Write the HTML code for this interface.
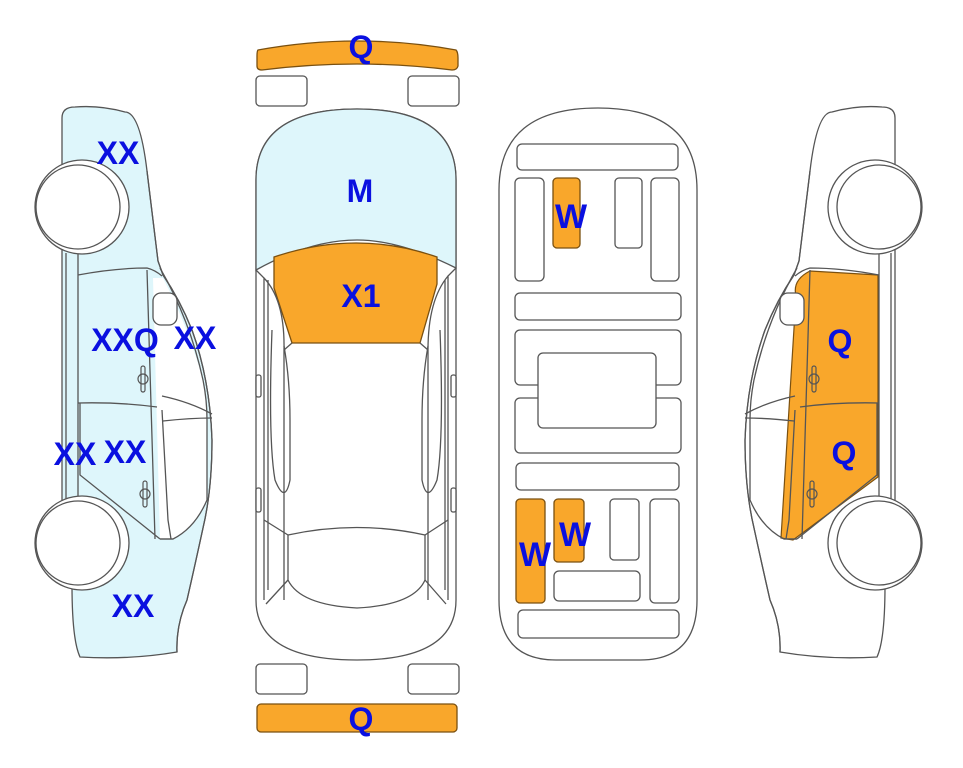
<!DOCTYPE html>
<html><head><meta charset="utf-8"><style>
html,body{margin:0;padding:0;background:#fff;}
svg{display:block}
text{font-family:"Liberation Sans",Arial,sans-serif;font-weight:bold;fill:#0a10e0;text-anchor:middle}
</style></head><body>
<svg width="963" height="768" viewBox="0 0 963 768" xmlns="http://www.w3.org/2000/svg">
<defs>
<path id="win" d="M163,278 Q185,320 200,370 Q207,395 207,414 L207,500 Q195,530 173,539 L160,539 L153,278 Z" fill="#fff" stroke="none"/>
<g id="sidelines">
  <path d="M147,171 L158,261 L163,275 Q180,300 192,330 Q210,380 212,440 Q212,490 203,528 Q195,565 187,600 Q176,625 177,652" fill="none" stroke="#555" stroke-width="1.3"/>
  <path d="M160,268 Q190,320 203,380 Q207,400 207,420 L207,500 Q195,528 173,539 L160,539" fill="none" stroke="#555" stroke-width="1.3"/>
  <path d="M78,253 L78,500 M66,253 L66,500 M78,275 Q115,268 147,268 Q155,270 162,276 M147,270 L155,539 M78,403 Q120,402 157,407 M80,403 L80,475 L160,539 M160,539 L173,539 M162,396 Q190,402 212,414 M163,421 Q190,418 212,418 M162,410 L168,520 L171,539" fill="none" stroke="#555" stroke-width="1.3"/>
  <rect x="153" y="293" width="24" height="32" rx="8" fill="#fff" stroke="#555" stroke-width="1.3"/>
  <g fill="none" stroke="#555" stroke-width="1.2">
    <rect x="141" y="366" width="4" height="26" rx="2"/><circle cx="143" cy="379" r="5"/>
    <rect x="143" y="481" width="4" height="26" rx="2"/><circle cx="145" cy="494" r="5"/>
  </g>
  <g fill="#fff" stroke="#555" stroke-width="1.3">
    <circle cx="82" cy="207" r="47"/>
    <circle cx="78" cy="207" r="42"/>
    <circle cx="82" cy="543" r="47"/>
    <circle cx="78" cy="543" r="42"/>
  </g>
</g>
</defs>

<!-- LEFT car -->
<g>
  <path d="M62,118 Q62,107 75,107 Q100,105 125,112 Q140,112 147,171 L158,261 L163,275 Q180,300 192,330 Q210,380 212,440 Q212,490 203,528 Q195,565 187,600 Q176,625 177,652 Q130,660 80,657 Q72,640 72,585 L62,580 L62,118 Z" fill="#def6fb" stroke="#555" stroke-width="1.3"/>
  <use href="#win"/>
  <use href="#sidelines"/>
</g>
<!-- RIGHT car (mirror) -->
<g transform="translate(957,0) scale(-1,1)">
  <path d="M62,118 Q62,107 75,107 Q100,105 125,112 Q140,112 147,171 L158,261 L163,275 Q180,300 192,330 Q210,380 212,440 Q212,490 203,528 Q195,565 187,600 Q176,625 177,652 Q130,660 80,657 Q72,640 72,585 L62,580 L62,118 Z" fill="#fff" stroke="#555" stroke-width="1.3"/>
  <path d="M79,275 L147,271 Q165,280 161,296 L176,538 L164,540 L79,477 Z" fill="#f9a72b" stroke="#7a5010" stroke-width="1.2"/>
  <use href="#sidelines"/>
</g>

<!-- TOP VIEW car -->
<g stroke="#555" stroke-width="1.3">
  <path d="M258,50 Q357,32 456,50 Q458,52 458,58 L458,66 Q457,70 452,70 Q357,58 262,70 Q257,70 257,66 L257,56 Q257,51 258,50 Z" fill="#f9a72b" stroke="#7a5010"/>
  <rect x="256" y="76" width="51" height="30" rx="4" fill="#fff"/>
  <rect x="408" y="76" width="51" height="30" rx="4" fill="#fff"/>
  <path d="M256,180 Q256,109 357,109 Q456,109 456,180 L456,600 Q456,660 357,660 Q256,660 256,600 Z" fill="#fff"/>
  <path d="M256,180 Q256,109 357,109 Q456,109 456,180 L456,268 Q400,240 357,240 Q310,240 256,270 Z" fill="#def6fb"/>
  <path d="M274,257 Q357,229 437,257 L437,284 L420,343 L292,343 L274,288 Z" fill="#f9a72b" stroke="#7a5010"/>
  <g fill="none">
    <path d="M256,270 L264,278 L264,600 M456,268 L448,276 L448,600"/>
    <path d="M264,278 Q285,300 284,350 L284,600 M448,276 Q428,300 428,350 L428,600"/>
    <path d="M268,280 Q268,300 268,330 L268,590 M445,280 L445,590"/>
    <path d="M284,350 L292,343 M428,350 L420,343"/>
    <path d="M284,346 Q290,380 290,420 L290,480 Q285,505 275,480 Q268,440 272,330 M428,346 Q422,380 422,420 L422,480 Q427,505 437,480 Q444,440 440,330"/>
    <path d="M288,535 Q357,520 425,535"/>
    <path d="M288,535 L288,580 Q300,605 357,608 Q414,605 425,580 L425,535"/>
    <path d="M264,520 L288,535 M448,520 L425,535 M266,604 L288,580 M446,604 L425,580"/>
  </g>
  <rect x="256" y="375" width="5" height="22" rx="2" fill="#fff"/>
  <rect x="256" y="488" width="5" height="24" rx="2" fill="#fff"/>
  <rect x="451" y="375" width="5" height="22" rx="2" fill="#fff"/>
  <rect x="451" y="488" width="5" height="24" rx="2" fill="#fff"/>
  <rect x="256" y="664" width="51" height="30" rx="4" fill="#fff"/>
  <rect x="408" y="664" width="51" height="30" rx="4" fill="#fff"/>
  <rect x="257" y="704" width="200" height="28" rx="4" fill="#f9a72b" stroke="#7a5010"/>
</g>

<!-- BOTTOM VIEW car -->
<g stroke="#555" stroke-width="1.3" fill="#fff">
  <path d="M499,190 Q499,108 598,108 Q697,108 697,190 L697,600 Q697,660 640,660 L556,660 Q499,660 499,600 Z"/>
  <rect x="517" y="144" width="161" height="26" rx="5"/>
  <rect x="515" y="178" width="29" height="103" rx="5"/>
  <rect x="553" y="178" width="27" height="70" rx="4" fill="#f9a72b" stroke="#7a5010"/>
  <rect x="615" y="178" width="27" height="70" rx="4"/>
  <rect x="651" y="178" width="28" height="103" rx="5"/>
  <rect x="515" y="293" width="166" height="27" rx="5"/>
  <rect x="515" y="330" width="166" height="55" rx="5"/>
  <rect x="515" y="398" width="166" height="55" rx="5"/>
  <rect x="538" y="353" width="118" height="75" rx="5"/>
  <rect x="516" y="463" width="163" height="27" rx="5"/>
  <rect x="516" y="499" width="29" height="104" rx="4" fill="#f9a72b" stroke="#7a5010"/>
  <rect x="554" y="499" width="30" height="63" rx="4" fill="#f9a72b" stroke="#7a5010"/>
  <rect x="610" y="499" width="29" height="61" rx="4"/>
  <rect x="650" y="499" width="29" height="104" rx="5"/>
  <rect x="554" y="571" width="86" height="30" rx="5"/>
  <rect x="518" y="610" width="161" height="28" rx="5"/>
</g>

<!-- labels -->
<g font-size="32">
  <text x="118" y="164">XX</text>
  <text x="125" y="351">XXQ</text>
  <text x="195" y="349">XX</text>
  <text x="75" y="465">XX</text>
  <text x="125" y="463">XX</text>
  <text x="133" y="617">XX</text>
  <text x="840" y="352">Q</text>
  <text x="844" y="464">Q</text>
  <text x="361" y="58">Q</text>
  <text x="360" y="202">M</text>
  <text x="361" y="307">X1</text>
  <text x="361" y="730">Q</text>
  <text x="571" y="228" font-size="34">W</text>
  <text x="575" y="546" font-size="34">W</text>
  <text x="535" y="566" font-size="34">W</text>
</g>
</svg>
</body></html>
